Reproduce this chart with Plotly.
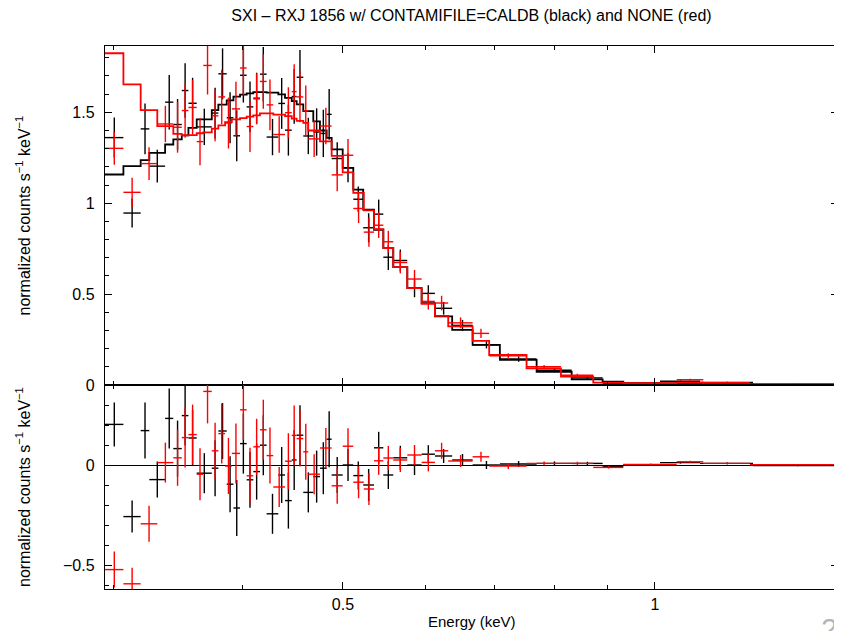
import numpy as np
import plotly.graph_objects as go

# ---------------- data ----------------
black_edges = [0.2947, 0.3070, 0.3190, 0.3252, 0.3368, 0.3430, 0.3495, 0.3547, 0.3613, 0.3736,
               0.3791, 0.3862, 0.3920, 0.3978, 0.4037, 0.4097, 0.4158, 0.4220, 0.4331, 0.4396,
               0.4462, 0.4511, 0.4578, 0.4681, 0.4751, 0.4822, 0.4876, 0.4997, 0.5116, 0.5230,
               0.5357, 0.5469, 0.5591, 0.5768, 0.5955, 0.6133, 0.6373, 0.6669, 0.7085, 0.7688,
               0.8310, 0.8902, 0.9320, 1.0112, 1.1052, 1.2433, 1.5017]
black_model = [1.158, 1.204, 1.237, 1.277, 1.323, 1.351, 1.373, 1.415, 1.461, 1.512,
               1.542, 1.566, 1.586, 1.597, 1.604, 1.611, 1.611, 1.608, 1.599, 1.580,
               1.562, 1.544, 1.507, 1.450, 1.400, 1.360, 1.296, 1.195, 1.075, 0.965,
               0.854, 0.753, 0.649, 0.533, 0.450, 0.377, 0.303, 0.221, 0.138, 0.073,
               0.031, 0.018, 0.010, 0.009, 0.006, 0.003]
black_data = [1.361, 0.946, 1.409, 1.204, 1.556, 1.433, 1.620, 1.550, 1.420, 1.496,
              1.712, 1.470, 1.371, 1.704, 1.530, 1.578, 1.710, 1.364, 1.549, 1.402,
              1.587, 1.693, 1.370, 1.392, 1.384, 1.489, 1.246, 1.195, 1.022, 0.865,
              0.940, 0.703, 0.685, 0.533, 0.504, 0.422, 0.328, 0.221, 0.143, 0.081,
              0.039, 0.010, 0.010, 0.021, 0.014, 0.000]
black_err = [0.11, 0.08, 0.14, 0.09, 0.15, 0.14, 0.15, 0.14, 0.10, 0.14,
             0.14, 0.14, 0.14, 0.15, 0.14, 0.14, 0.15, 0.10, 0.14, 0.14,
             0.15, 0.15, 0.10, 0.13, 0.13, 0.14, 0.09, 0.08, 0.07, 0.08,
             0.08, 0.07, 0.06, 0.05, 0.045, 0.035, 0.03, 0.02, 0.015, 0.01,
             0.008, 0.006, 0.005, 0.005, 0.004, 0.003]

red_edges = [0.2947, 0.3070, 0.3190, 0.3310, 0.3430, 0.3495, 0.3547, 0.3613, 0.3666, 0.3736,
             0.3791, 0.3848, 0.3906, 0.3978, 0.4037, 0.4097, 0.4158, 0.4220, 0.4283, 0.4396,
             0.4462, 0.4511, 0.4578, 0.4629, 0.4751, 0.4876, 0.4997, 0.5116, 0.5237, 0.5357,
             0.5469, 0.5591, 0.5768, 0.5955, 0.6133, 0.6317, 0.6669, 0.6919, 0.7518, 0.8115,
             0.8719, 0.9320, 1.0494, 1.1133, 1.2350, 1.5017]
red_model = [1.825, 1.654, 1.512, 1.424, 1.382, 1.373, 1.375, 1.385, 1.390, 1.410,
             1.428, 1.446, 1.461, 1.468, 1.476, 1.483, 1.494, 1.494, 1.488, 1.479,
             1.466, 1.453, 1.442, 1.400, 1.340, 1.260, 1.170, 1.057, 0.961, 0.858,
             0.753, 0.649, 0.533, 0.447, 0.380, 0.322, 0.243, 0.165, 0.092, 0.046,
             0.013, 0.008, 0.013, 0.005, 0.003]
red_data = [1.302, 1.060, 1.218, 1.436, 1.418, 1.510, 1.527, 1.339, 1.758, 1.481,
            1.585, 1.441, 1.519, 1.744, 1.422, 1.574, 1.670, 1.541, 1.378, 1.498,
            1.614, 1.585, 1.508, 1.354, 1.425, 1.156, 1.264, 0.971, 0.841, 0.879,
            0.788, 0.674, 0.583, 0.460, 0.451, 0.342, 0.284, 0.160, 0.100, 0.054,
            0.001, 0.011, 0.029, 0.013, 0.005]
red_err = [0.09, 0.08, 0.09, 0.10, 0.14, 0.15, 0.15, 0.13, 0.16, 0.14,
           0.15, 0.14, 0.15, 0.15, 0.14, 0.14, 0.15, 0.14, 0.10, 0.14,
           0.15, 0.14, 0.14, 0.10, 0.10, 0.09, 0.09, 0.08, 0.08, 0.07,
           0.06, 0.06, 0.05, 0.045, 0.04, 0.03, 0.025, 0.015, 0.01, 0.008,
           0.006, 0.005, 0.005, 0.004, 0.003]

title_text = "SXI – RXJ 1856 w/ CONTAMIFILE=CALDB (black) and NONE (red)"
x_major = [0.5, 1]
x_minor = [0.3, 0.4, 0.6, 0.7, 0.8, 0.9]
y1_ticks = [0, 0.5, 1, 1.5]
y1_labels = ["0", "0.5", "1", "1.5"]
y2_ticks = [-0.5, 0]
y2_labels = ["\u22120.5", "0"]

# ---------------- figure ----------------
W, H = 842, 631
ML, MR, MT, MB = 97, 12, 38, 50
PW = W - ML - MR
PH = H - MT - MB
split = 204 / PH
FONT = "Liberation Sans, Arial, Helvetica, sans-serif"

fig = go.Figure()


def add_spectrum(edges, model, data, err, color):
    e = np.array(edges)
    lo, hi = e[:-1], e[1:]
    c = (lo + hi) / 2.0
    m = np.array(model)
    d = np.array(data)
    er = np.array(err)
    # model histogram
    fig.add_trace(go.Scatter(x=list(e), y=list(m) + [m[-1]], mode="lines",
                             line=dict(color=color, width=1.8, shape="hv"),
                             xaxis="x", yaxis="y", hoverinfo="skip"))
    ex = dict(type="data", symmetric=False, array=hi - c, arrayminus=c - lo,
              color=color, thickness=1.4, width=0)
    ey = dict(type="data", array=er, color=color, thickness=1.4, width=0)
    fig.add_trace(go.Scatter(x=c, y=d, mode="markers", marker=dict(size=0.1, color=color),
                             error_x=ex, error_y=ey, xaxis="x", yaxis="y"))
    fig.add_trace(go.Scatter(x=c, y=d - m, mode="markers", marker=dict(size=0.1, color=color),
                             error_x=ex, error_y=ey, xaxis="x2", yaxis="y2"))


add_spectrum(black_edges, black_model, black_data, black_err, "#000000")
add_spectrum(red_edges, red_model, red_data, red_err, "#ff0000")

xr = [np.log10(black_edges[0]), np.log10(black_edges[-1])]
common_x = dict(type="log", range=xr, showgrid=False, zeroline=False,
                showline=True, linecolor="black", linewidth=1.4, mirror="allticks",
                ticks="inside", ticklen=7, tickwidth=1.2, tickcolor="black",
                tickmode="array", tickvals=x_major, ticktext=["0.5", "1"],
                minor=dict(tickmode="array", tickvals=x_minor, ticks="inside",
                           ticklen=4, tickwidth=1.2, tickcolor="black"))
common_y = dict(showgrid=False, showline=True, linecolor="black", linewidth=1.4,
                mirror="allticks", ticks="inside", ticklen=7, tickwidth=1.2,
                tickcolor="black", tickmode="array",
                minor=dict(dtick=0.1, tick0=0, ticks="inside", ticklen=4,
                           tickwidth=1.2, tickcolor="black"),
                tickfont=dict(size=16, color="black", family=FONT),
                ticklabelstandoff=6)

fig.update_layout(
    width=W, height=H, margin=dict(l=ML, r=MR, t=MT, b=MB, autoexpand=False),
    paper_bgcolor="white", plot_bgcolor="white", showlegend=False,
    font=dict(family=FONT, color="black"),
    title=dict(text=title_text, x=0.5, xref="paper", xanchor="center",
               y=1 - 7 / H, yref="container", yanchor="middle",
               font=dict(size=16, family=FONT, color="black")),
    xaxis=dict(common_x, domain=[0, 1], anchor="y", matches="x2",
               showticklabels=False),
    xaxis2=dict(common_x, domain=[0, 1], anchor="y2", showticklabels=True,
                tickfont=dict(size=16, color="black", family=FONT),
                ticklabelstandoff=1),
    yaxis=dict(common_y, domain=[split, 1], anchor="x", range=[0, 1.865],
               tickvals=y1_ticks, ticktext=y1_labels, zeroline=False),
    yaxis2=dict(common_y, domain=[0, split], anchor="x2", range=[-0.62, 0.40],
                tickvals=y2_ticks, ticktext=y2_labels, zeroline=True,
                zerolinecolor="black", zerolinewidth=1.4),
)

ytitle = "normalized counts s<sup>\u22121</sup> keV<sup>\u22121</sup>"
fig.add_annotation(text=ytitle, textangle=-90, xref="paper", yref="paper",
                   x=(15 - ML) / PW, y=(split + 1) / 2, xanchor="center", yanchor="middle",
                   showarrow=False, font=dict(size=16, family=FONT, color="black"))
fig.add_annotation(text=ytitle, textangle=-90, xref="paper", yref="paper",
                   x=(15 - ML) / PW, y=split / 2, xanchor="center", yanchor="middle",
                   showarrow=False, font=dict(size=16, family=FONT, color="black"))
fig.add_annotation(text="Energy (keV)", xref="paper", yref="paper",
                   x=0.5, y=(H - MB - 613) / PH, xanchor="center", yanchor="middle",
                   showarrow=False, font=dict(size=15, family=FONT, color="black"))
fig.add_annotation(text="2", xref="paper", yref="paper",
                   x=(821 - ML) / PW, y=(H - MB - 602) / PH, xanchor="center", yanchor="top",
                   showarrow=False, font=dict(size=30, family=FONT, color="#b5b5b5"))

fig.write_html("out.html")
